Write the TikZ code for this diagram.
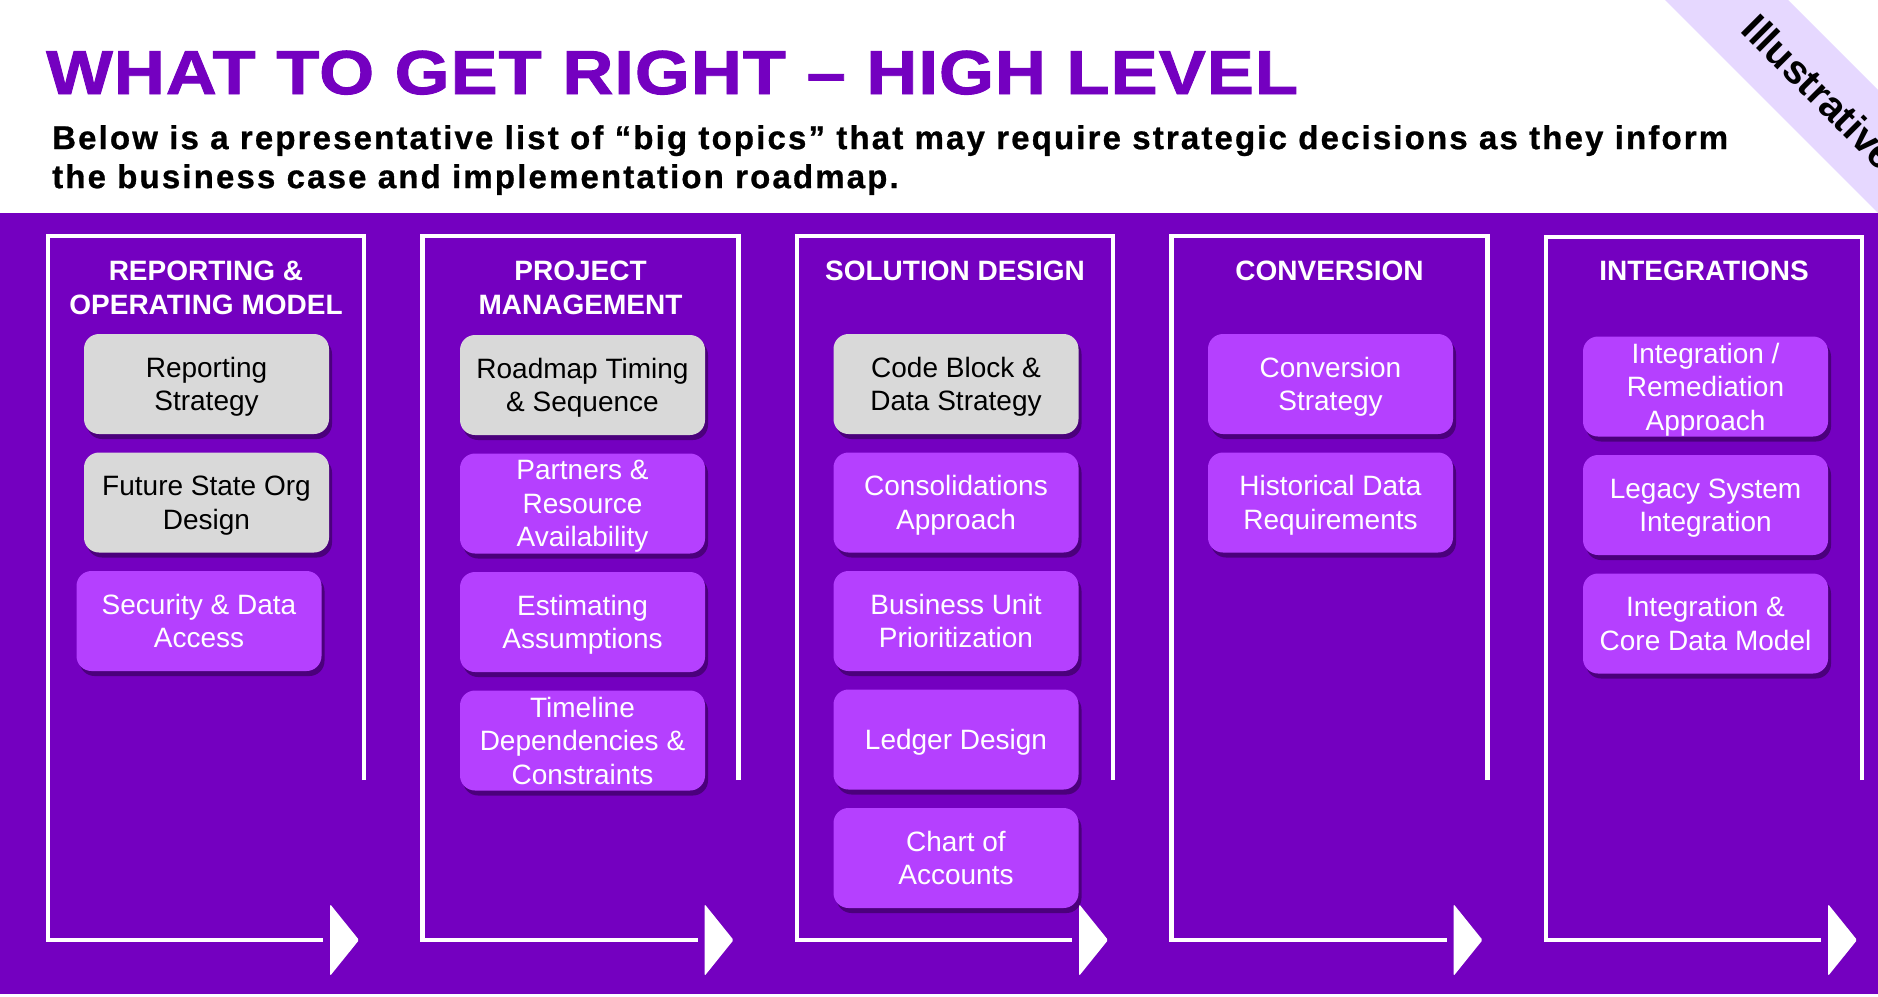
\documentclass[tikz,border=0pt]{standalone}
\usepackage{fontspec}
\setmainfont{Liberation Sans}
\newfontfamily\titlefont{Liberation Sans}[FakeStretch=1.14, LetterSpace=1.5, FakeBold=1.5]
\newfontfamily\widefont{Liberation Sans}[LetterSpace=6.5, FakeBold=0.8]
\usetikzlibrary{positioning,shadows}
\definecolor{deeppurple}{HTML}{7400C0}
\definecolor{brightpurple}{HTML}{B540FF}
\definecolor{softgray}{HTML}{D9D9D9}
\definecolor{lavender}{HTML}{E6D8FF}

\begin{document}
\begin{tikzpicture}[x=1pt, y=-1pt, node distance=118.5pt, every node/.style={inner sep=0pt},
	topic/.style={fill=brightpurple, text=white, rounded corners=15pt, minimum width=245pt, minimum height=100pt, align=center,
		font=\fontsize{28}{33.5}\selectfont, text depth=-2.5pt, drop shadow={shadow xshift=3pt, shadow yshift=-5pt, opacity=.35, fill=black}},
	keytopic/.style={topic, fill=softgray, text=black},
	head/.style={anchor=north, align=center, text=white, font=\fontsize{28}{34}\selectfont\bfseries},
	frame/.style={draw=white, line width=4.5pt},
	tip/.style={fill=white, rounded corners=1.5pt}]
	\useasboundingbox (0,0) rectangle (1878,996);
	\fill[white] (0,0) rectangle (1878,996);
	\fill[deeppurple] (0,213) rectangle (1878,994);
	\fill[lavender] (1665,0) -- (1788,0) -- (1878,90) -- (1878,213) -- cycle;
	\node[rotate=-45, anchor=base west, font=\fontsize{40}{44}\selectfont\bfseries] (illus) at (1739,31) {Illustrative};
	\node[anchor=base west, text=deeppurple, font=\fontsize{62}{70}\selectfont\titlefont\bfseries] (title) at (46,94) {WHAT TO GET RIGHT – HIGH LEVEL};
	\node[anchor=north west, align=left, font=\fontsize{33}{39}\selectfont\widefont\bfseries] (intro) at (52,125)
		{Below is a representative list of “big topics” that may require strategic decisions as they inform\\the business case and implementation roadmap.};

	\draw[frame] (364,780) -- (364,236) -- (48,236) -- (48,940) -- (323,940);
	\fill[tip] (330,904) -- (359,940) -- (330,976) -- cycle;
	\draw[frame] (738.5,780) -- (738.5,236) -- (422.5,236) -- (422.5,940) -- (697.5,940);
	\fill[tip] (704.5,904) -- (733.5,940) -- (704.5,976) -- cycle;
	\draw[frame] (1113,780) -- (1113,236) -- (797,236) -- (797,940) -- (1072,940);
	\fill[tip] (1079,904) -- (1108,940) -- (1079,976) -- cycle;
	\draw[frame] (1487.5,780) -- (1487.5,236) -- (1171.5,236) -- (1171.5,940) -- (1446.5,940);
	\fill[tip] (1453.5,904) -- (1482.5,940) -- (1453.5,976) -- cycle;
	\draw[frame] (1862,780) -- (1862,237) -- (1546,237) -- (1546,940) -- (1821,940);
	\fill[tip] (1828,904) -- (1857,940) -- (1828,976) -- cycle;

	\node[head] (report) at (206,261) {REPORTING \&\\OPERATING MODEL};
	\node[head] (project) at (580.5,261) {PROJECT\\MANAGEMENT};
	\node[head] (solution) at (955,261) {SOLUTION DESIGN};
	\node[head] (conversion) at (1329.5,261) {CONVERSION};
	\node[head] (integration) at (1704,261) {INTEGRATIONS};

	\node[keytopic] (rs) at (206.5,384) {Reporting\\Strategy};
	\node[keytopic, below of=rs] (fso) {Future State Org\\Design};
	\node[topic, below of=fso, xshift=-7.5pt] (sda) {Security \& Data\\Access};

	\node[keytopic] (rts) at (582.5,385) {Roadmap Timing\\\& Sequence};
	\node[topic, below of=rts] (pra) {Partners \&\\Resource\\Availability};
	\node[topic, below of=pra] (ea) {Estimating\\Assumptions};
	\node[topic, below of=ea] (tdc) {Timeline\\Dependencies \&\\Constraints};

	\node[keytopic] (cbds) at (956,384) {Code Block \&\\Data Strategy};
	\node[topic, below of=cbds] (ca) {Consolidations\\Approach};
	\node[topic, below of=ca] (bup) {Business Unit\\Prioritization};
	\node[topic, below of=bup] (ld) {Ledger Design};
	\node[topic, below of=ld] (coa) {Chart of\\Accounts};

	\node[topic] (cs) at (1330.5,384) {Conversion\\Strategy};
	\node[topic, below of=cs] (hdr) {Historical Data\\Requirements};

	\node[topic] (ira) at (1705.5,386.5) {Integration /\\Remediation\\Approach};
	\node[topic, below of=ira] (lsi) {Legacy System\\Integration};
	\node[topic, below of=lsi] (icdm) {Integration \&\\Core Data Model};
\end{tikzpicture}
\end{document}
